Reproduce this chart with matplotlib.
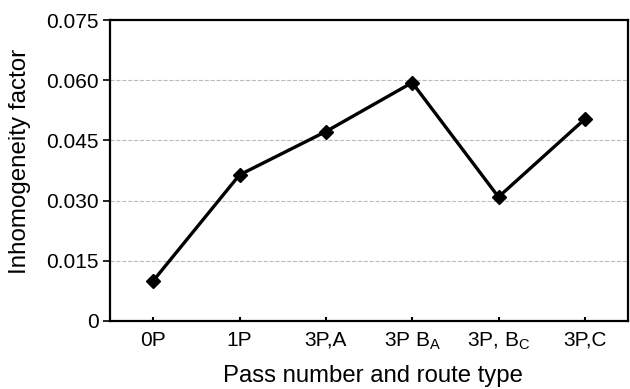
import matplotlib
matplotlib.use("Agg")
import matplotlib.pyplot as plt

plt.rcParams['font.family'] = ['Liberation Sans', 'DejaVu Sans']
plt.rcParams['mathtext.fontset'] = 'custom'
plt.rcParams['mathtext.rm'] = 'Liberation Sans'
plt.rcParams['mathtext.it'] = 'Liberation Sans'

passes = ['0P', '1P', '3P,A', r'3P B$_\mathrm{A}$', r'3P, B$_\mathrm{C}$', '3P,C']
factor = [0.0100, 0.0364, 0.0472, 0.0594, 0.0309, 0.0503]
yticks = [0, 0.015, 0.030, 0.045, 0.060, 0.075]
ylabels = ['0', '0.015', '0.030', '0.045', '0.060', '0.075']

fig = plt.figure(figsize=(6.3, 3.89), dpi=100)
ax = fig.add_axes([110/630, 1 - 321/389, 518/630, 301/389])

x = list(range(len(passes)))
ax.plot(x, factor, color='black', lw=2.4, marker='D', ms=7, mfc='black', mec='black', zorder=3)

ax.set_xlim(-0.5, 5.5)
ax.set_ylim(0, 0.075)
ax.set_xticks(x)
ax.set_xticklabels(passes, fontsize=15)
ax.set_yticks(yticks)
ax.set_yticklabels(ylabels, fontsize=15)
ax.tick_params(axis='x', direction='in', length=3, width=1.5, pad=7)
ax.tick_params(axis='y', direction='out', length=5, width=1.2, pad=3)
ax.yaxis.grid(True, ls='--', color='#bbbbbb', lw=0.8)
for s in ax.spines.values():
    s.set_linewidth(1.6)

ax.set_xlabel('Pass number and route type', fontsize=17.2)
ax.set_ylabel('Inhomogeneity factor', fontsize=17.4)
ax.xaxis.set_label_coords(0.508, -0.145)
ax.yaxis.set_label_coords(-0.153, 0.53)

fig.savefig('out.png', dpi=100)
